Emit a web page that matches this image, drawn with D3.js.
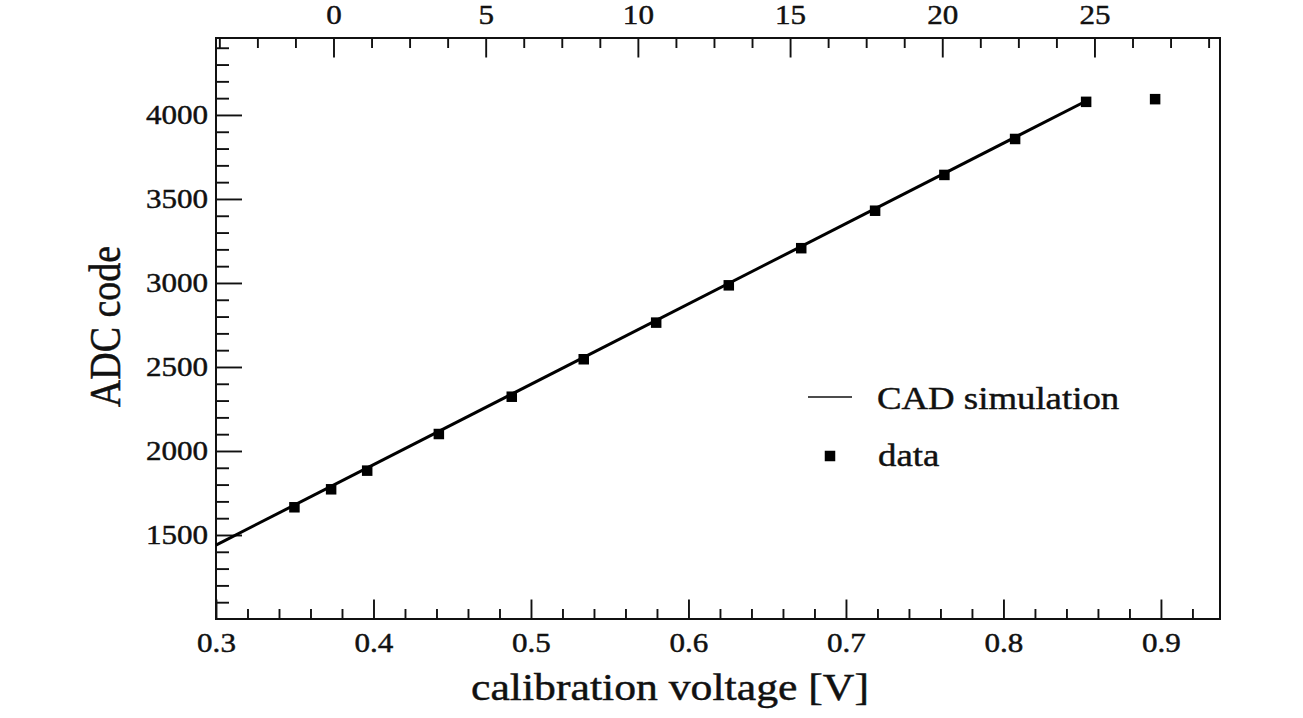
<!DOCTYPE html>
<html>
<head>
<meta charset="utf-8">
<script src="https://cdn.jsdelivr.net/npm/d3@7"></script>
<style>
  body { margin: 0; background: #fff; }
  svg { display: block; }
  text { font-family: "Liberation Serif", "Times New Roman", serif; fill: #111; stroke: #111; stroke-width: 0.45px; }
</style>
</head>
<body>
<svg id="chart" width="1303" height="718"></svg>
<script>
// Measured ADC response versus calibration voltage
const voltage = [0.3498, 0.3731, 0.3960, 0.4415, 0.4878, 0.5335, 0.5795, 0.6256, 0.6716, 0.7185, 0.7625, 0.8074, 0.8525, 0.8963];
const adcCode = [1665, 1772, 1883, 2101, 2323, 2546, 2764, 2986, 3207, 3430, 3643, 3857, 4078, 4094];

// CAD simulation (straight line)
const simVoltage = [0.30, 0.8525];
const simCode = [1440, 4083];

// Tick labels
const xTicks = [0.3, 0.4, 0.5, 0.6, 0.7, 0.8, 0.9];
const topTicks = [0, 5, 10, 15, 20, 25];
const yTicks = [1500, 2000, 2500, 3000, 3500, 4000];

// Secondary (top) axis: setting = (V - offset) * gain
const topOffsetVolt = 0.3746;
const topGain = 51.74;

const svg = d3.select("#chart");
const frame = { left: 216, right: 1220, top: 38, bottom: 619 };
const sx = 1.15;            // horizontal glyph stretch
const tickFont = 27, legendFont = 32, titleFont = 38;

const x = d3.scaleLinear().domain([0.3, 0.9375]).range([frame.left, frame.right]);
const y = d3.scaleLinear().domain([1000, 4458]).range([frame.bottom, frame.top]);
const toTop = v => (v - topOffsetVolt) * topGain;
const xTop = d3.scaleLinear().domain(x.domain().map(toTop)).range(x.range());

// minor tick positions
const xMinor = d3.range(15, 47).filter(i => i % 5 !== 0).map(i => i * 0.02);
const topMinor = d3.range(-3, 24).filter(k => k % 4 !== 0).map(k => k * 1.25);
const yMinor = d3.range(11, 45).filter(i => i % 5 !== 0).map(i => i * 100);

function styleAxis(g) {
  g.select(".domain").remove();
  g.selectAll(".tick line").attr("stroke", "#111").attr("stroke-width", 1.9);
  g.selectAll("text").attr("font-family", "Liberation Serif, serif").attr("fill", "#111");
}

// bottom axis
svg.append("g").attr("transform", `translate(0,${frame.bottom})`)
  .call(d3.axisBottom(x).tickValues(xMinor).tickSize(-10).tickFormat(""))
  .call(styleAxis);
const gb = svg.append("g").attr("transform", `translate(0,${frame.bottom})`)
  .call(d3.axisBottom(x).tickValues(xTicks).tickSize(-19.5).tickPadding(14).tickFormat(d3.format(".1f")))
  .call(styleAxis);
gb.selectAll("text").attr("font-size", tickFont).attr("transform", `scale(${sx},1)`);

// top axis
svg.append("g").attr("transform", `translate(0,${frame.top})`)
  .call(d3.axisTop(xTop).tickValues(topMinor).tickSize(-10).tickFormat(""))
  .call(styleAxis);
const gt = svg.append("g").attr("transform", `translate(0,${frame.top})`)
  .call(d3.axisTop(xTop).tickValues(topTicks).tickSize(-19.5).tickPadding(14).tickFormat(d3.format("d")))
  .call(styleAxis);
gt.selectAll("text").attr("font-size", tickFont).attr("transform", `scale(${sx},1)`);

// left axis
svg.append("g").attr("transform", `translate(${frame.left},0)`)
  .call(d3.axisLeft(y).tickValues(yMinor).tickSize(-13).tickFormat(""))
  .call(styleAxis);
const gl = svg.append("g").attr("transform", `translate(${frame.left},0)`)
  .call(d3.axisLeft(y).tickValues(yTicks).tickSize(-26).tickPadding(7).tickFormat(d3.format("d")))
  .call(styleAxis);
gl.selectAll("text").attr("font-size", tickFont).attr("transform", `scale(${sx},1)`);

// frame
svg.append("rect")
  .attr("x", frame.left).attr("y", frame.top)
  .attr("width", frame.right - frame.left).attr("height", frame.bottom - frame.top)
  .attr("fill", "none").attr("stroke", "#111").attr("stroke-width", 2);

// simulation line
const simPts = simVoltage.map((v, i) => [v, simCode[i]]);
svg.append("path")
  .datum(simPts)
  .attr("d", d3.line().x(d => x(d[0])).y(d => y(d[1])))
  .attr("fill", "none").attr("stroke", "#000").attr("stroke-width", 3);

// data markers
const sq = 10.5;
svg.append("g").selectAll("rect")
  .data(voltage.map((v, i) => [v, adcCode[i]]))
  .join("rect")
  .attr("x", d => x(d[0]) - sq / 2).attr("y", d => y(d[1]) - sq / 2)
  .attr("width", sq).attr("height", sq).attr("fill", "#000");

// legend
const lg = svg.append("g");
lg.append("line").attr("x1", 808).attr("x2", 852).attr("y1", 397).attr("y2", 397)
  .attr("stroke", "#111").attr("stroke-width", 1.6);
lg.append("text").attr("transform", `translate(877,409) scale(${sx},1)`)
  .attr("font-size", legendFont).text("CAD simulation");
lg.append("rect").attr("x", 830 - sq / 2).attr("y", 456 - sq / 2)
  .attr("width", sq).attr("height", sq).attr("fill", "#000");
lg.append("text").attr("transform", `translate(878,466) scale(${sx},1)`)
  .attr("font-size", legendFont).text("data");

// axis titles
svg.append("text").attr("transform", `translate(670,700) scale(${sx},1)`)
  .attr("text-anchor", "middle").attr("font-size", titleFont)
  .text("calibration voltage [V]");
svg.append("text").attr("transform", `translate(120,326.5) scale(${sx},1) rotate(-90)`)
  .attr("text-anchor", "middle").attr("font-size", titleFont)
  .text("ADC code");
</script>
</body>
</html>
